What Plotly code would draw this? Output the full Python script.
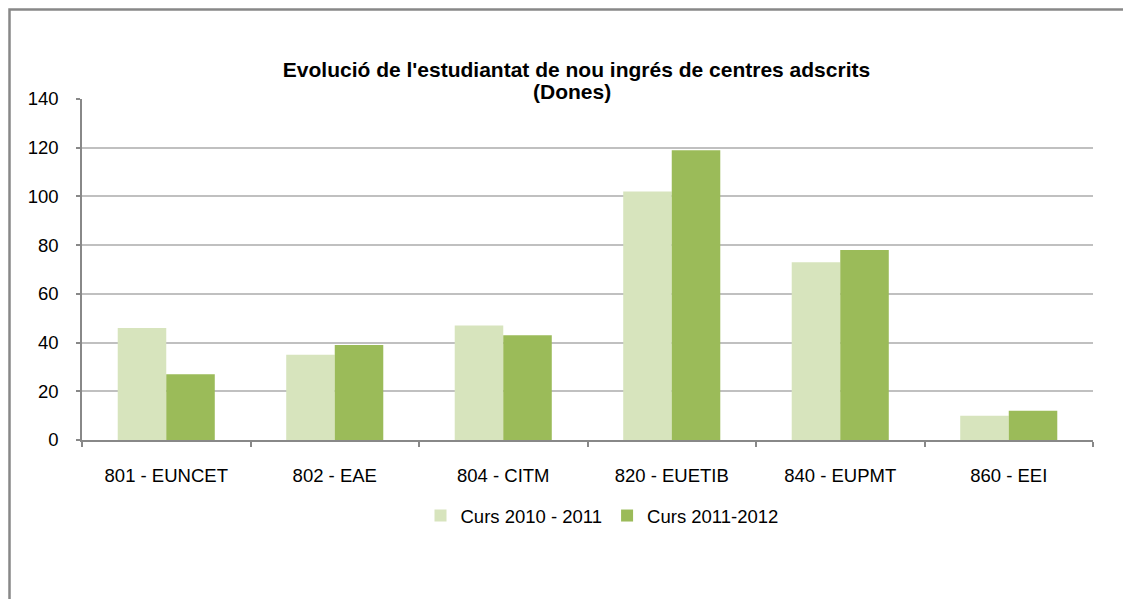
import plotly.graph_objects as go

categories = ["801 - EUNCET", "802 - EAE", "804 - CITM", "820 - EUETIB", "840 - EUPMT", "860 - EEI"]
series_names = ["Curs 2010 - 2011", "Curs 2011-2012"]
values_2010 = [46, 35, 47, 102, 73, 10]
values_2011 = [27, 39, 43, 119, 78, 12]
y_ticks = [0, 20, 40, 60, 80, 100, 120, 140]
title_line1 = "Evolució de l'estudiantat de nou ingrés de centres adscrits"
title_line2 = "(Dones)"

# the page body adds an 8px margin around the figure
OFF = 8
W, H = 1131 - OFF, 599 - OFF
L, R, T, B = 74, 38, 91, 159
pw, ph = W - L - R, H - T - B


def px_x(p):  # page pixel -> paper x
    return (p - OFF - L) / pw


def px_y(p):  # page pixel -> paper y
    return (H - B - (p - OFF)) / ph


fig = go.Figure()
fig.add_trace(go.Bar(x=categories, y=values_2010, name=series_names[0],
                     marker=dict(color="#D7E4BD", line=dict(width=0))))
fig.add_trace(go.Bar(x=categories, y=values_2011, name=series_names[1],
                     marker=dict(color="#9BBB59", line=dict(width=0))))

font = "Liberation Sans, Arial, sans-serif"

fig.update_layout(
    width=W, height=H,
    margin=dict(l=L, r=R, t=T, b=B),
    paper_bgcolor="white", plot_bgcolor="white",
    barmode="group", bargap=0.424, bargroupgap=0,
    font=dict(family=font, size=18.5, color="#000000"),
    title=dict(text="<b>" + title_line1 + "</b>",
               x=(576.5 - OFF) / W, xanchor="center", xref="container",
               y=1 - (70 - OFF) / H, yanchor="middle", yref="container",
               font=dict(family=font, size=21, color="#000000")),
    legend=dict(orientation="h", x=px_x(602), xanchor="center", y=px_y(516), yanchor="middle",
                font=dict(family=font, size=18.5), itemwidth=30, traceorder="normal"),
    showlegend=True,
)
fig.add_annotation(text="<b>" + title_line2 + "</b>", xref="paper", yref="paper",
                   x=px_x(572), y=px_y(91.5), xanchor="center", yanchor="middle",
                   showarrow=False, font=dict(family=font, size=21, color="#000000"))

fig.update_xaxes(showline=True, linecolor="#888888", linewidth=1.5,
                 ticks="outside", tickson="boundaries", ticklen=5, tickcolor="#888888", tickwidth=1.5,
                 ticklabelstandoff=18, tickfont=dict(size=18.5), showgrid=False)
fig.update_yaxes(range=[0, 140], tickvals=y_ticks, showline=True, linecolor="#888888", linewidth=1.5,
                 ticks="outside", ticklen=4, tickcolor="#888888", tickwidth=1.5,
                 ticklabelstandoff=14, tickfont=dict(size=18.5),
                 showgrid=True, gridcolor="#C0C0C0", gridwidth=1.5, zeroline=False)

# outer chart frame (visible on left and top only)
fig.add_shape(type="path", xref="paper", yref="paper",
              path=f"M {px_x(OFF + 1.5)} {px_y(610)} L {px_x(OFF + 1.5)} {px_y(OFF + 1.5)} L {px_x(1140)} {px_y(OFF + 1.5)}",
              line=dict(color="#888888", width=2.5), layer="below")

fig.write_html("out.html")
